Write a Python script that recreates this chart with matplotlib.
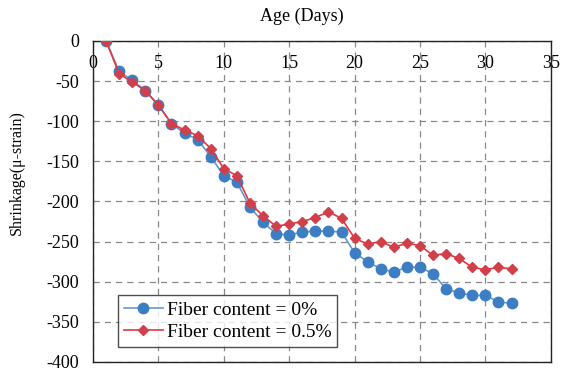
import matplotlib
matplotlib.use("Agg")
import matplotlib.pyplot as plt

days = list(range(1, 33))
fiber_0 = [0, -38, -49, -62, -80, -103, -115, -123, -144, -168, -176, -207, -226, -240,
           -242, -238, -237, -237, -238, -264, -275, -284, -288, -282, -282, -290, -309,
           -314, -317, -317, -325, -327]
fiber_05 = [0, -41, -51, -62, -80, -103, -111, -118, -134, -159, -168, -202, -218, -231,
            -228, -225, -220, -213, -221, -246, -253, -250, -257, -252, -255, -267, -265,
            -271, -282, -285, -282, -284]
labels = ["Fiber content = 0%", "Fiber content = 0.5%"]
xticks = [0, 5, 10, 15, 20, 25, 30, 35]
yticks = [0, -50, -100, -150, -200, -250, -300, -350, -400]

plt.rcParams['font.family'] = ['Liberation Serif', 'DejaVu Serif']

fig = plt.figure(figsize=(5.62, 3.69), dpi=100)
ax = fig.add_axes([0.1655, 0.019, 0.8145, 0.870])

ax.plot(days, fiber_0, color='#5B9BD5', lw=1.2, marker='o', ms=7.5,
        mfc='#3D7DC4', mec='#3D7DC4', label=labels[0], zorder=3)
ax.plot(days, fiber_05, color='#E8333D', lw=1.2, marker='D', ms=5.5,
        mfc='#D0404A', mec='#D0404A', label=labels[1], zorder=4)

ax.set_xlim(0, 35)
ax.set_ylim(-400, 0)
ax.set_xticks(xticks)
ax.set_yticks(yticks)
ax.set_yticklabels([str(v) for v in yticks])
ax.grid(True, color='#888888', ls=(0, (5, 4)), lw=0.9)
ax.set_axisbelow(True)

ax.tick_params(axis='x', top=True, labeltop=True, bottom=False, labelbottom=False,
               length=0, pad=-10, labelsize=13)
ax.tick_params(axis='y', length=0, pad=10, labelsize=13)
for lab in ax.get_xticklabels():
    lab.set_verticalalignment('top')

for s in ax.spines.values():
    s.set_color('#222222')
    s.set_linewidth(1.0)

fig.text(0.537, 0.955, "Age (Days)", ha='center', va='center', fontsize=13)
ax.set_ylabel("Shrinkage(\u03bc-strain)", fontsize=11.5)
ax.yaxis.set_label_coords(-0.148, 0.59)

leg = ax.legend(loc='lower left', bbox_to_anchor=(0.055, 0.047), fontsize=14,
                frameon=True, fancybox=False, edgecolor='#222222',
                borderpad=0.3, handlelength=2.0, labelspacing=0.25, handletextpad=0.2,
                borderaxespad=0.0)
leg.get_frame().set_linewidth(1.0)

fig.savefig("out.png", dpi=100)
